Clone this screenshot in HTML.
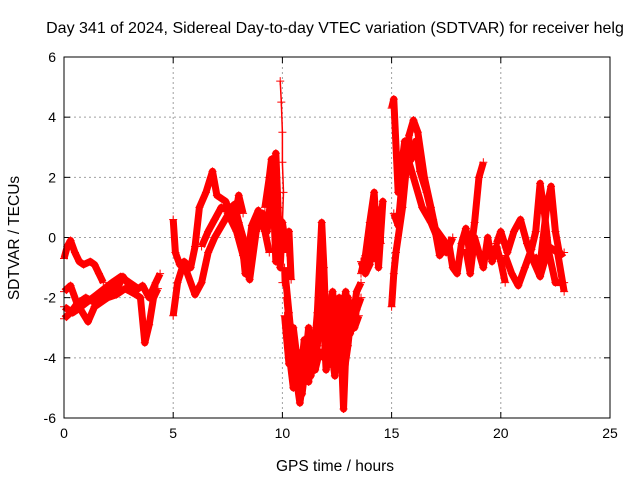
<!DOCTYPE html>
<html><head><meta charset="utf-8"><style>
body{margin:0;background:#fff}
svg{font-family:"Liberation Sans",sans-serif}
</style></head><body>
<svg id="chart" width="640" height="480">
<rect width="640" height="480" fill="#fff"/>
<text x="335" y="33" text-anchor="middle" font-size="16">Day 341 of 2024, Sidereal Day-to-day VTEC variation (SDTVAR) for receiver helg</text>
<text transform="translate(19,238) rotate(-90)" text-anchor="middle" font-size="15.5">SDTVAR / TECUs</text>
<text x="335" y="471" text-anchor="middle" font-size="15.5">GPS time / hours</text>
<g id="grid"></g>
<g id="ticks"></g>
<g id="series"></g>
<rect x="64" y="57" width="546" height="361" fill="none" stroke="#000" stroke-width="1"/>
</svg>
<script>
const xTicks=[0,5,10,15,20,25];
const yTicks=[-6,-4,-2,0,2,4,6];
const trackA=[[0,-0.7],[0.15,-0.3],[0.3,-0.1],[0.5,-0.5],[0.7,-0.8],[0.9,-0.9],[1.2,-0.8],[1.4,-0.9],[1.6,-1.2],[1.8,-1.5]];
const trackB=[[0,-2.7],[0.3,-2.5],[0.6,-2.2],[1,-2.0],[1.5,-2.2],[2,-1.8],[2.5,-1.6],[2.7,-1.3],[3.2,-1.8],[3.6,-1.6],[3.9,-2.0],[4.2,-1.5],[4.4,-1.2]];
const trackC=[[0,-1.8],[0.3,-1.6],[0.6,-2.2],[1.1,-2.8],[1.4,-2.3],[2,-2.0],[2.4,-1.9],[2.8,-1.7],[3.3,-1.9],[3.5,-2.0],[3.7,-3.5],[3.9,-2.9],[4.1,-2.0],[4.3,-1.7]];
const trackC2=[[0,-2.3],[0.2,-2.4],[0.4,-2.5],[0.6,-2.4],[1.5,-1.9],[2.2,-1.5],[2.6,-1.3],[3.0,-1.5],[3.4,-1.7]];
const trackD=[[5.0,-2.6],[5.2,-1.5],[5.5,-0.8],[5.8,-1.0],[6.0,-0.3],[6.2,1.0],[6.5,1.5],[6.8,2.2],[7.0,1.4],[7.4,1.2],[7.8,0.5],[8.0,1.4],[8.2,0.8]];
const trackE=[[5.0,0.6],[5.1,-0.5],[5.3,-0.9],[5.6,-1.1],[6.0,-1.9],[6.3,-1.5],[6.6,-0.5],[6.9,0],[7.3,0.5],[7.7,1.0],[8.0,0.5],[8.4,-0.5],[8.7,0]];
const trackE2=[[6.3,-0.3],[6.6,0.2],[6.9,0.6],[7.2,1.0],[7.5,0.9],[7.8,1.1],[8.1,0.2],[8.3,-1.2],[8.6,0.4],[8.9,0.9],[9.2,0.2],[9.4,-0.5]];
const trackF=[[7.5,0.8],[7.9,0.2],[8.2,-0.6],[8.5,-1.4],[8.8,0.2],[9.1,0.8],[9.3,0.2],[9.5,1.5],[9.7,2.8],[9.8,1.0],[9.9,-1.0],[10.0,0.5],[10.2,-0.5]];
const trackF2=[[9.2,1.0],[9.4,2.0],[9.5,2.6],[9.6,1.0],[9.7,-0.8],[9.9,0.6],[10.1,-0.3],[10.3,0.2],[10.4,-1.4]];
const trackSpike=[[9.9,5.2],[9.95,4.5],[10.0,3.5],[10.0,2.5],[10.05,1.5],[10.0,0.5],[9.95,-0.5],[10.0,-1.5]];
const trackG=[[10.1,-1.0],[10.3,-2.5],[10.5,-4.0],[10.7,-5.0],[10.8,-5.5],[11.0,-4.5],[11.2,-3.0],[11.4,-4.2],[11.6,-2.5],[11.8,0.5],[11.9,-1.0],[12.0,-3.0],[12.2,-4.2],[12.4,-2.5],[12.6,-2.0],[12.8,-5.7],[13.0,-2.0],[13.2,-2.8],[13.4,-1.8],[13.6,-1.5]];
const trackH=[[10.2,-2.0],[10.4,-3.5],[10.6,-4.6],[10.9,-3.8],[11.2,-4.8],[11.4,-3.5],[11.7,-3.0],[12.0,-2.2],[12.2,-3.5],[12.4,-4.6],[12.6,-3.0],[12.9,-1.8],[13.1,-3.2],[13.4,-2.4],[13.6,-2.0]];
const trackH2=[[10.1,-2.6],[10.3,-4.2],[10.5,-3.0],[10.7,-4.2],[10.9,-5.2],[11.1,-4.0],[11.3,-3.6],[11.5,-4.4],[11.7,-3.8],[11.9,-4.0],[12.1,-2.6],[12.3,-1.8],[12.5,-3.6],[12.7,-3.8],[12.9,-3.0],[13.1,-2.2],[13.3,-3.0],[13.5,-2.6]];
const trackH3=[[10.2,-3.2],[10.5,-5.0],[10.8,-4.8],[11.0,-3.4],[11.3,-4.6],[11.6,-3.6],[11.8,-1.5],[12.0,-4.4],[12.3,-3.2],[12.6,-4.2],[12.8,-4.6],[13.0,-3.6],[13.2,-2.2]];
const trackI=[[13.6,-1.2],[13.8,-0.6],[14.0,0.5],[14.2,1.5],[14.4,-1.0],[14.6,1.2],[14.3,-0.8]];
const trackI2=[[13.6,-0.8],[13.8,-1.2],[14.0,-0.9],[14.2,0.6],[14.4,0.9],[14.5,-0.2]];
const trackJ=[[15.0,-2.3],[15.1,-1.2],[15.2,-0.5],[15.5,1.0],[15.7,2.5],[15.8,3.4],[16.0,3.9],[16.2,3.5],[16.5,2.0],[16.8,1.0],[17.0,0.3],[17.3,0],[17.6,-0.3]];
const trackJ2=[[15.1,0.8],[15.3,0.4],[15.5,2.0],[15.7,3.0],[15.9,2.6],[16.1,3.2],[16.3,2.2],[16.6,1.5],[16.9,0.6],[17.2,-0.6],[17.4,-0.4]];
const trackK=[[15.0,4.3],[15.1,4.6],[15.3,1.5],[15.6,3.2],[15.8,2.5],[16.0,2.0],[16.4,1.0],[16.8,0.5],[17.2,-0.2],[17.5,-0.5],[17.8,0]];
const trackL=[[17.6,-0.1],[17.8,-1.0],[18.0,-1.2],[18.2,-0.2],[18.4,0.3],[18.6,-0.6],[18.8,0.5],[19.0,2.0],[19.2,2.5]];
const trackM=[[18.4,-0.4],[18.6,-1.2],[18.8,0],[19.0,-0.5],[19.2,-1.0],[19.4,0],[19.6,-0.8],[19.8,-0.3],[20.0,-0.8],[20.2,-1.5]];
const trackN=[[19.8,-0.2],[20.0,0.2],[20.3,-0.5],[20.6,0.2],[20.9,0.6],[21.2,-0.2],[21.5,-0.8],[21.8,-1.3],[22.2,-0.3],[22.6,-0.5],[22.9,-1.8]];
const trackO=[[20.2,-0.6],[20.5,-1.2],[20.8,-1.6],[21.1,-1.0],[21.4,-0.4],[21.6,0.2],[21.8,1.8],[22.0,0.8],[22.2,-0.5],[22.5,-1.5],[22.9,-1.5]];
const trackP=[[21.5,-0.6],[21.8,-0.9],[22.1,1.0],[22.3,1.7],[22.5,0.2],[22.7,-0.6],[22.9,-0.5]];
const tracks=[trackA,trackB,trackC,trackC2,trackD,trackE,trackE2,trackF,trackF2,trackSpike,trackG,trackH,trackH2,trackH3,trackI,trackI2,trackJ,trackJ2,trackK,trackL,trackM,trackN,trackO,trackP];
const X0=64,X1=610,Y0=418,Y1=57;
const xs=v=>X0+(v-0)/25*(X1-X0);
const ys=v=>Y0-(v+6)/12*(Y0-Y1);
const NS='http://www.w3.org/2000/svg';
function mk(t,a,p){const e=document.createElementNS(NS,t);for(const k in a)e.setAttribute(k,a[k]);p.appendChild(e);return e;}
const grid=document.getElementById('grid'),ticks=document.getElementById('ticks'),ser=document.getElementById('series');
xTicks.forEach(t=>{const x=xs(t);
 if(t>0&&t<25){const l=mk('line',{x1:x,x2:x,y1:Y1,y2:Y0,stroke:'#a0a0a0','stroke-dasharray':'2,3'},grid);}
 mk('line',{x1:x,x2:x,y1:Y0,y2:Y0-6,stroke:'#000'},ticks);mk('line',{x1:x,x2:x,y1:Y1,y2:Y1+6,stroke:'#000'},ticks);
 const tx=mk('text',{x:x,y:Y0+20,'text-anchor':'middle','font-size':'14'},ticks);tx.textContent=t;
 });
yTicks.forEach(t=>{const y=ys(t);
 if(t>-6&&t<6){const l=mk('line',{x1:X0,x2:X1,y1:y,y2:y,stroke:'#a0a0a0','stroke-dasharray':'2,3'},grid);}
 mk('line',{x1:X0,x2:X0+6,y1:y,y2:y,stroke:'#000'},ticks);mk('line',{x1:X1,x2:X1-6,y1:y,y2:y,stroke:'#000'},ticks);
 const tx=mk('text',{x:X0-8,y:y+5,'text-anchor':'end','font-size':'14'},ticks);tx.textContent=t;
 });
tracks.forEach(tr=>{
 const pl=mk('polyline',{points:tr.map(p=>xs(p[0])+','+ys(p[1])).join(' '),fill:'none',stroke:'#f00','stroke-width':tr===trackSpike?1.5:7,'stroke-linejoin':'round'},ser);
 
 tr.forEach(p=>{const x=xs(p[0]),y=ys(p[1]);
  const m=mk('path',{d:`M${x-4},${y}h8M${x},${y-4}v8`,stroke:'#f00','stroke-width':1},ser);
  });
});
</script>
</body></html>
